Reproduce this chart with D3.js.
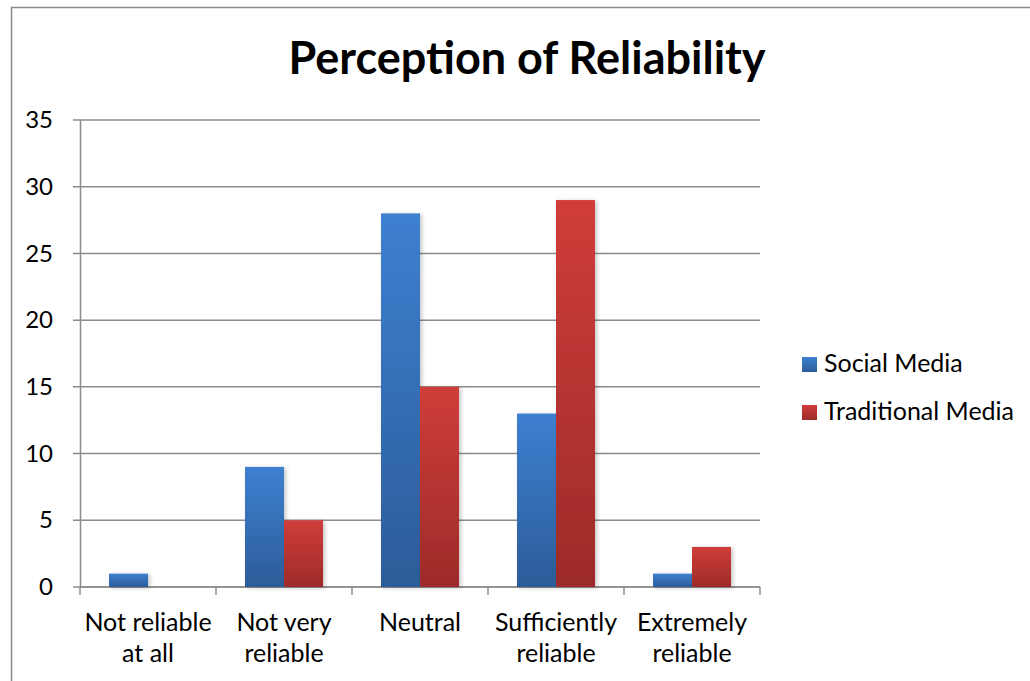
<!DOCTYPE html>
<html><head><meta charset="utf-8">
<script src="https://cdn.jsdelivr.net/npm/d3@7/dist/d3.min.js"></script>
<style>body{margin:0;background:#fff}svg{display:block}</style>
</head><body>
<svg id="c" width="1030" height="681"></svg>
<script>
const categories = ["Not reliable at all", "Not very reliable", "Neutral", "Sufficiently reliable", "Extremely reliable"];
const categoryLines = [["Not reliable", "at all"], ["Not very", "reliable"], ["Neutral"], ["Sufficiently", "reliable"], ["Extremely", "reliable"]];
const seriesNames = ["Social Media", "Traditional Media"];
const socialMedia = [1, 9, 28, 13, 1];
const traditionalMedia = [0, 5, 15, 29, 3];
const yTicks = [0, 5, 10, 15, 20, 25, 30, 35];
const title = "Perception of Reliability";

const font = "Lato, 'Open Sans', sans-serif";
const svg = d3.select("#c");
const defs = svg.append("defs");
const grads = [["gBlue", "#3d80d0", "#2c5c99"], ["gRed", "#d03d3a", "#9c2b29"]];
grads.forEach(([id, a, b]) => {
  const g = defs.append("linearGradient").attr("id", id).attr("x1", 0).attr("y1", 0).attr("x2", 0).attr("y2", 1);
  g.append("stop").attr("offset", "0%").attr("stop-color", a);
  g.append("stop").attr("offset", "100%").attr("stop-color", b);
});
const f = defs.append("filter").attr("id", "sh").attr("x", "-20%").attr("y", "-20%").attr("width", "150%").attr("height", "150%");
f.append("feDropShadow").attr("dx", 2).attr("dy", 1).attr("stdDeviation", 2).attr("flood-color", "#000").attr("flood-opacity", 0.22);

// outer border
svg.append("path").attr("d", "M11.5,681 V7.5 H1030").attr("fill", "none").attr("stroke", "#8a8a8a").attr("stroke-width", 1.5);

const L = 80, R = 760, T = 120, B = 587;
const x = d3.scaleBand().domain(categories).range([L, R]).paddingInner(0).paddingOuter(0);
const xs = d3.scaleBand().domain(seriesNames).range([0, x.bandwidth()]).paddingOuter(0.744).paddingInner(0);
const y = d3.scaleLinear().domain([0, 35]).range([B, T]);

// gridlines
svg.append("g").selectAll("line").data(yTicks).join("line")
  .attr("x1", L - 7).attr("x2", R).attr("y1", d => y(d)).attr("y2", d => y(d))
  .attr("stroke", "#8c8c8c").attr("stroke-width", 1.5);

// y axis
const ya = svg.append("g").attr("transform", `translate(${L},0)`)
  .call(d3.axisLeft(y).tickValues(yTicks).tickSize(0).tickPadding(27));
ya.select(".domain").attr("stroke", "#8c8c8c").attr("stroke-width", 1.5);
ya.selectAll("text").attr("font-family", font).attr("font-size", 24).attr("fill", "#000");

// x axis
const xa = svg.append("g").attr("transform", `translate(0,${B})`)
  .call(d3.axisBottom(x).tickSize(0).tickFormat(""));
xa.select(".domain").remove();
const tickXs = categories.map(c => x(c)).concat([R]);
svg.append("g").selectAll("line").data(tickXs).join("line")
  .attr("x1", d => d).attr("x2", d => d).attr("y1", B).attr("y2", B + 8)
  .attr("stroke", "#8c8c8c").attr("stroke-width", 1.5);
svg.append("line").attr("x1", L).attr("x2", R).attr("y1", B).attr("y2", B)
  .attr("stroke", "#8c8c8c").attr("stroke-width", 1.5);

// x labels
categories.forEach((c, i) => {
  const cx = x(c) + x.bandwidth() / 2;
  const t = svg.append("text").attr("x", cx).attr("y", B + 44)
    .attr("text-anchor", "middle").attr("font-family", font).attr("font-size", 25).attr("fill", "#000");
  categoryLines[i].forEach((ln, j) => t.append("tspan").attr("x", cx).attr("dy", j === 0 ? 0 : 31).text(ln));
});

// bars
const series = [socialMedia, traditionalMedia];
const fills = ["url(#gBlue)", "url(#gRed)"];
series.forEach((vals, si) => {
  svg.append("g").selectAll("rect").data(vals.map((v, i) => ({c: categories[i], v}))).join("rect")
    .filter(d => d.v > 0)
    .attr("x", d => x(d.c) + xs(seriesNames[si]))
    .attr("width", xs.bandwidth())
    .attr("y", d => y(d.v))
    .attr("height", d => y(0) - y(d.v))
    .attr("fill", fills[si])
    .attr("filter", "url(#sh)");
});

// title
svg.append("text").attr("x", 527).attr("y", 74).attr("text-anchor", "middle")
  .attr("font-family", font).attr("font-weight", "bold").attr("font-size", 45).attr("fill", "#000").text(title);

// legend
const leg = svg.append("g");
seriesNames.forEach((n, i) => {
  const ly = 364 + i * 48;
  leg.append("rect").attr("x", 802).attr("y", ly - 7).attr("width", 15).attr("height", 15).attr("fill", fills[i]);
  leg.append("text").attr("x", 824).attr("y", ly + 8).attr("font-family", font).attr("font-size", 25).attr("fill", "#000").text(n);
});
</script>
</body></html>
